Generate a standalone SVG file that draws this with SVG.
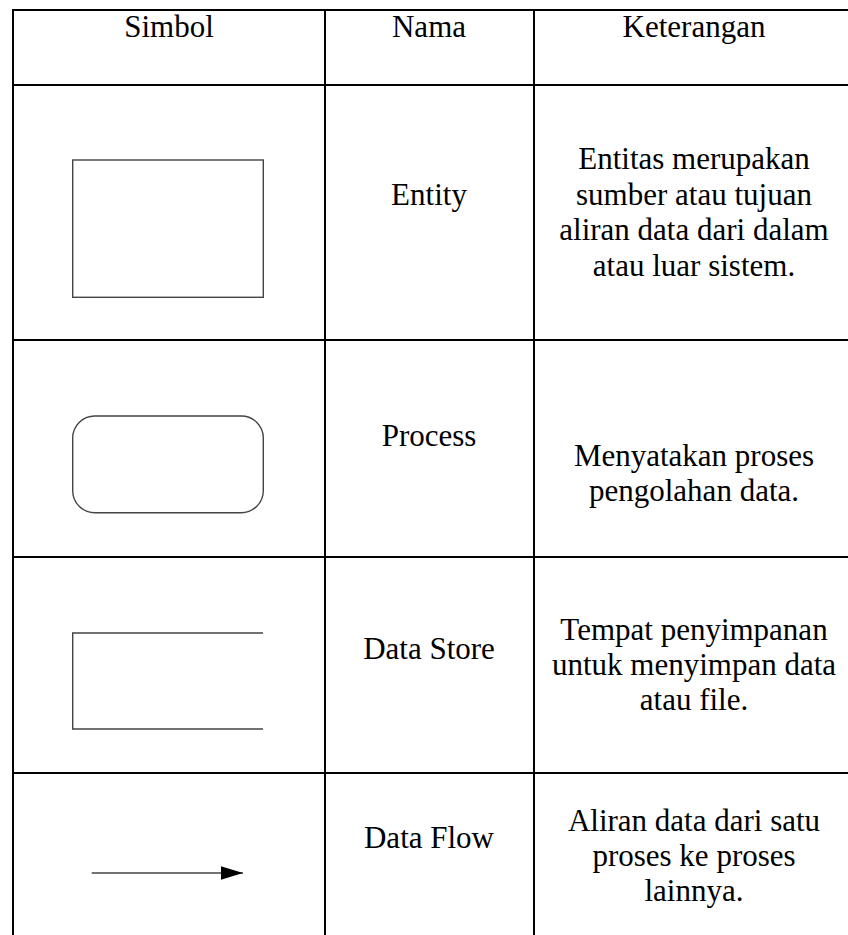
<svg xmlns="http://www.w3.org/2000/svg" width="848" height="935" viewBox="0 0 848 935">
  <style>
    .grid { stroke: #000; stroke-width: 2; fill: none; }
    .sym { stroke: #444; stroke-width: 1.4; fill: #fff; }
    text { font-family: "Liberation Serif", "Times New Roman", serif; font-size: 31px; fill: #000; text-anchor: middle; }
  </style>
  <defs>
    <marker id="arrow" markerWidth="23" markerHeight="14" refX="22.5" refY="7" orient="auto" markerUnits="userSpaceOnUse">
      <path d="M0,0 L22.5,7 L0,14 Z" fill="#000"/>
    </marker>
  </defs>
  <rect width="848" height="935" fill="#fff"/>

  <g id="table-grid">
    <line class="grid" x1="13" y1="10" x2="856" y2="10"/>
    <line class="grid" x1="13" y1="85" x2="856" y2="85"/>
    <line class="grid" x1="13" y1="340" x2="856" y2="340"/>
    <line class="grid" x1="13" y1="557" x2="856" y2="557"/>
    <line class="grid" x1="13" y1="773" x2="856" y2="773"/>
    <line class="grid" x1="13" y1="9" x2="13" y2="940"/>
    <line class="grid" x1="325" y1="9" x2="325" y2="940"/>
    <line class="grid" x1="534" y1="9" x2="534" y2="940"/>
  </g>

  <g id="header">
    <text x="169" y="37">Simbol</text>
    <text x="429" y="37">Nama</text>
    <text x="694" y="37">Keterangan</text>
  </g>

  <g id="entity">
    <rect class="sym" x="72.7" y="160" width="190.6" height="137.3"/>
    <text x="429" y="205">Entity</text>
    <text x="694" y="169">Entitas merupakan</text>
    <text x="694" y="204.5">sumber atau tujuan</text>
    <text x="694" y="240">aliran data dari dalam</text>
    <text x="694" y="275.5">atau luar sistem.</text>
  </g>

  <g id="process">
    <rect class="sym" x="72.7" y="416" width="190.6" height="96.7" rx="22" ry="22"/>
    <text x="429" y="446">Process</text>
    <text x="694" y="466">Menyatakan proses</text>
    <text x="694" y="501">pengolahan data.</text>
  </g>

  <g id="data-store">
    <path class="sym" d="M263,633 H72.7 V729 H263" fill="none"/>
    <text x="429" y="659">Data Store</text>
    <text x="694" y="640">Tempat penyimpanan</text>
    <text x="694" y="675">untuk menyimpan data</text>
    <text x="694" y="710">atau file.</text>
  </g>

  <g id="connectors">
    <line x1="91.7" y1="873" x2="243" y2="873" stroke="#444" stroke-width="1.6" marker-end="url(#arrow)"/>
  </g>

  <g id="data-flow">
    <text x="429" y="848">Data Flow</text>
    <text x="694" y="831">Aliran data dari satu</text>
    <text x="694" y="866">proses ke proses</text>
    <text x="694" y="901">lainnya.</text>
  </g>
</svg>
